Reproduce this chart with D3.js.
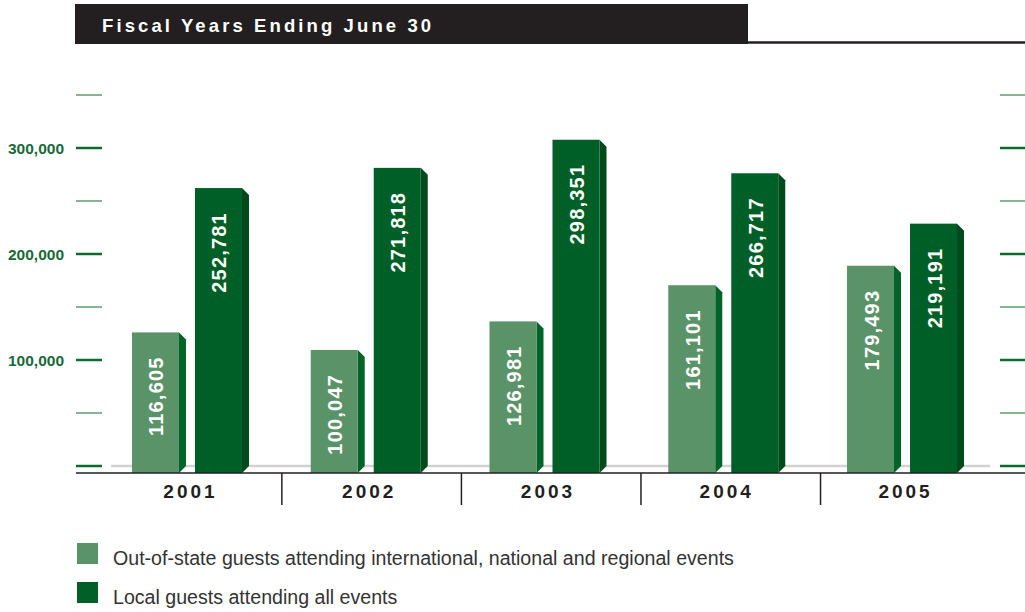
<!DOCTYPE html>
<html>
<head>
<meta charset="utf-8">
<script src="https://cdn.jsdelivr.net/npm/d3@7"></script>
<style>
  html, body { margin: 0; padding: 0; background: #ffffff; }
  svg { display: block; }
</style>
</head>
<body>
<svg id="chart" width="1025" height="612"></svg>
<script>
// Attendance by fiscal year
const years = ["2001", "2002", "2003", "2004", "2005"];
const outOfState = [116605, 100047, 126981, 161101, 179493];
const local = [252781, 271818, 298351, 266717, 219191];
const majorTicks = [100000, 200000, 300000];
const allTicks = [0, 50000, 100000, 150000, 200000, 250000, 300000, 350000];
const seriesNames = [
  "Out-of-state guests attending international, national and regional events",
  "Local guests attending all events"
];
const title = "Fiscal Years Ending June 30";

const colors = {
  oosFront: "#5b9369", oosSide: "#006428",
  locFront: "#005f26", locSide: "#004a1b",
  dark: "#231f20", tickMajor: "#0f6a30", tickMinor: "#5e9a6c", label: "#17693a"
};

const svg = d3.select("#chart");

// scales
const y = d3.scaleLinear().domain([0, 300000]).range([466, 148]);
const x = d3.scaleBand().domain(years).range([101.1, 994.9]).padding(0);
const depth = 7;      // side face offset
const lift = 10;      // front face raised above the back-wall scale
const barW = 47;
const baseY = 473;

// header
svg.append("rect").attr("x", 75).attr("y", 4).attr("width", 673).attr("height", 40)
  .attr("fill", colors.dark);
svg.append("line").attr("x1", 748).attr("x2", 1025).attr("y1", 42.5).attr("y2", 42.5)
  .attr("stroke", colors.dark).attr("stroke-width", 2.5);
svg.append("text").attr("x", 102).attr("y", 32)
  .attr("fill", "#ffffff")
  .style("font-family", "'Liberation Sans', Arial, sans-serif")
  .style("font-weight", "bold").style("font-size", "18.5px").style("letter-spacing", "3.1px")
  .text(title);

// tick marks on both sides
const tickG = svg.append("g");
allTicks.forEach(t => {
  const major = majorTicks.includes(t) || t === 0;
  [[76, 102], [1000, 1025]].forEach(([a, b]) => {
    tickG.append("line").attr("x1", a).attr("x2", b).attr("y1", y(t)).attr("y2", y(t))
      .attr("stroke", major ? colors.tickMajor : colors.tickMinor)
      .attr("stroke-width", major ? 2.5 : 1.5);
  });
});
svg.append("g").selectAll("text").data(majorTicks).join("text")
  .attr("x", 64).attr("y", d => y(d)).attr("dy", "0.36em")
  .attr("text-anchor", "end").attr("fill", colors.label)
  .style("font-family", "'Liberation Sans', Arial, sans-serif")
  .style("font-weight", "bold").style("font-size", "15.5px")
  .text(d => d3.format(",")(d));

// grey floor line
svg.append("line").attr("x1", 111).attr("x2", 990).attr("y1", y(0)).attr("y2", y(0))
  .attr("stroke", "#d2d2d2").attr("stroke-width", 2.5);

// bars
function drawBar(g, left, value, front, side, label) {
  const top = y(value) - lift;
  g.append("path")
    .attr("d", `M${left + barW},${top} L${left + barW + depth},${top + depth} L${left + barW + depth},${baseY - depth} L${left + barW},${baseY} Z`)
    .attr("fill", side);
  g.append("rect").attr("x", left).attr("y", top).attr("width", barW).attr("height", baseY - top)
    .attr("fill", front);
  const cx = left + barW / 2 + 8;
  const ty = top + 24;
  g.append("text")
    .attr("transform", `translate(${cx},${ty}) rotate(-90)`)
    .attr("text-anchor", "end").attr("fill", "#ffffff")
    .style("font-family", "'Liberation Sans', Arial, sans-serif")
    .style("font-weight", "bold").style("font-size", "20px").style("letter-spacing", "1.2px")
    .text(label);
}
const barsG = svg.append("g");
years.forEach((yr, i) => {
  const c = x(yr) + x.bandwidth() / 2;
  drawBar(barsG, c - 58.5, outOfState[i], colors.oosFront, colors.oosSide, d3.format(",")(outOfState[i]));
  drawBar(barsG, c + 4.5, local[i], colors.locFront, colors.locSide, d3.format(",")(local[i]));
});

// x axis line, dividers and year labels
svg.append("line").attr("x1", 76).attr("x2", 1025).attr("y1", baseY).attr("y2", baseY)
  .attr("stroke", colors.dark).attr("stroke-width", 1.5);
years.slice(1).forEach((yr, i) => {
  const xd = x(yr) + 2 + i * 0.8;
  svg.append("line").attr("x1", xd).attr("x2", xd).attr("y1", baseY).attr("y2", 505)
    .attr("stroke", colors.dark).attr("stroke-width", 1.5);
});
svg.append("g").selectAll("text").data(years).join("text")
  .attr("x", d => x(d) + x.bandwidth() / 2).attr("y", 497.5)
  .attr("dx", 0)
  .attr("text-anchor", "middle").attr("fill", colors.dark)
  .style("font-family", "'Liberation Sans', Arial, sans-serif")
  .style("font-weight", "bold").style("font-size", "19px").style("letter-spacing", "3px")
  .text(d => d);

// legend
const legend = svg.append("g");
[[colors.oosFront, 543], [colors.locFront, 582]].forEach(([col, ly], i) => {
  legend.append("rect").attr("x", 77).attr("y", ly).attr("width", 21).attr("height", 21).attr("fill", col);
  legend.append("text").attr("x", 113).attr("y", ly + 22)
    .attr("fill", "#333333")
    .style("font-family", "'Liberation Sans', Arial, sans-serif")
    .style("font-size", "19.6px")
    .text(seriesNames[i]);
});
</script>
</body>
</html>
